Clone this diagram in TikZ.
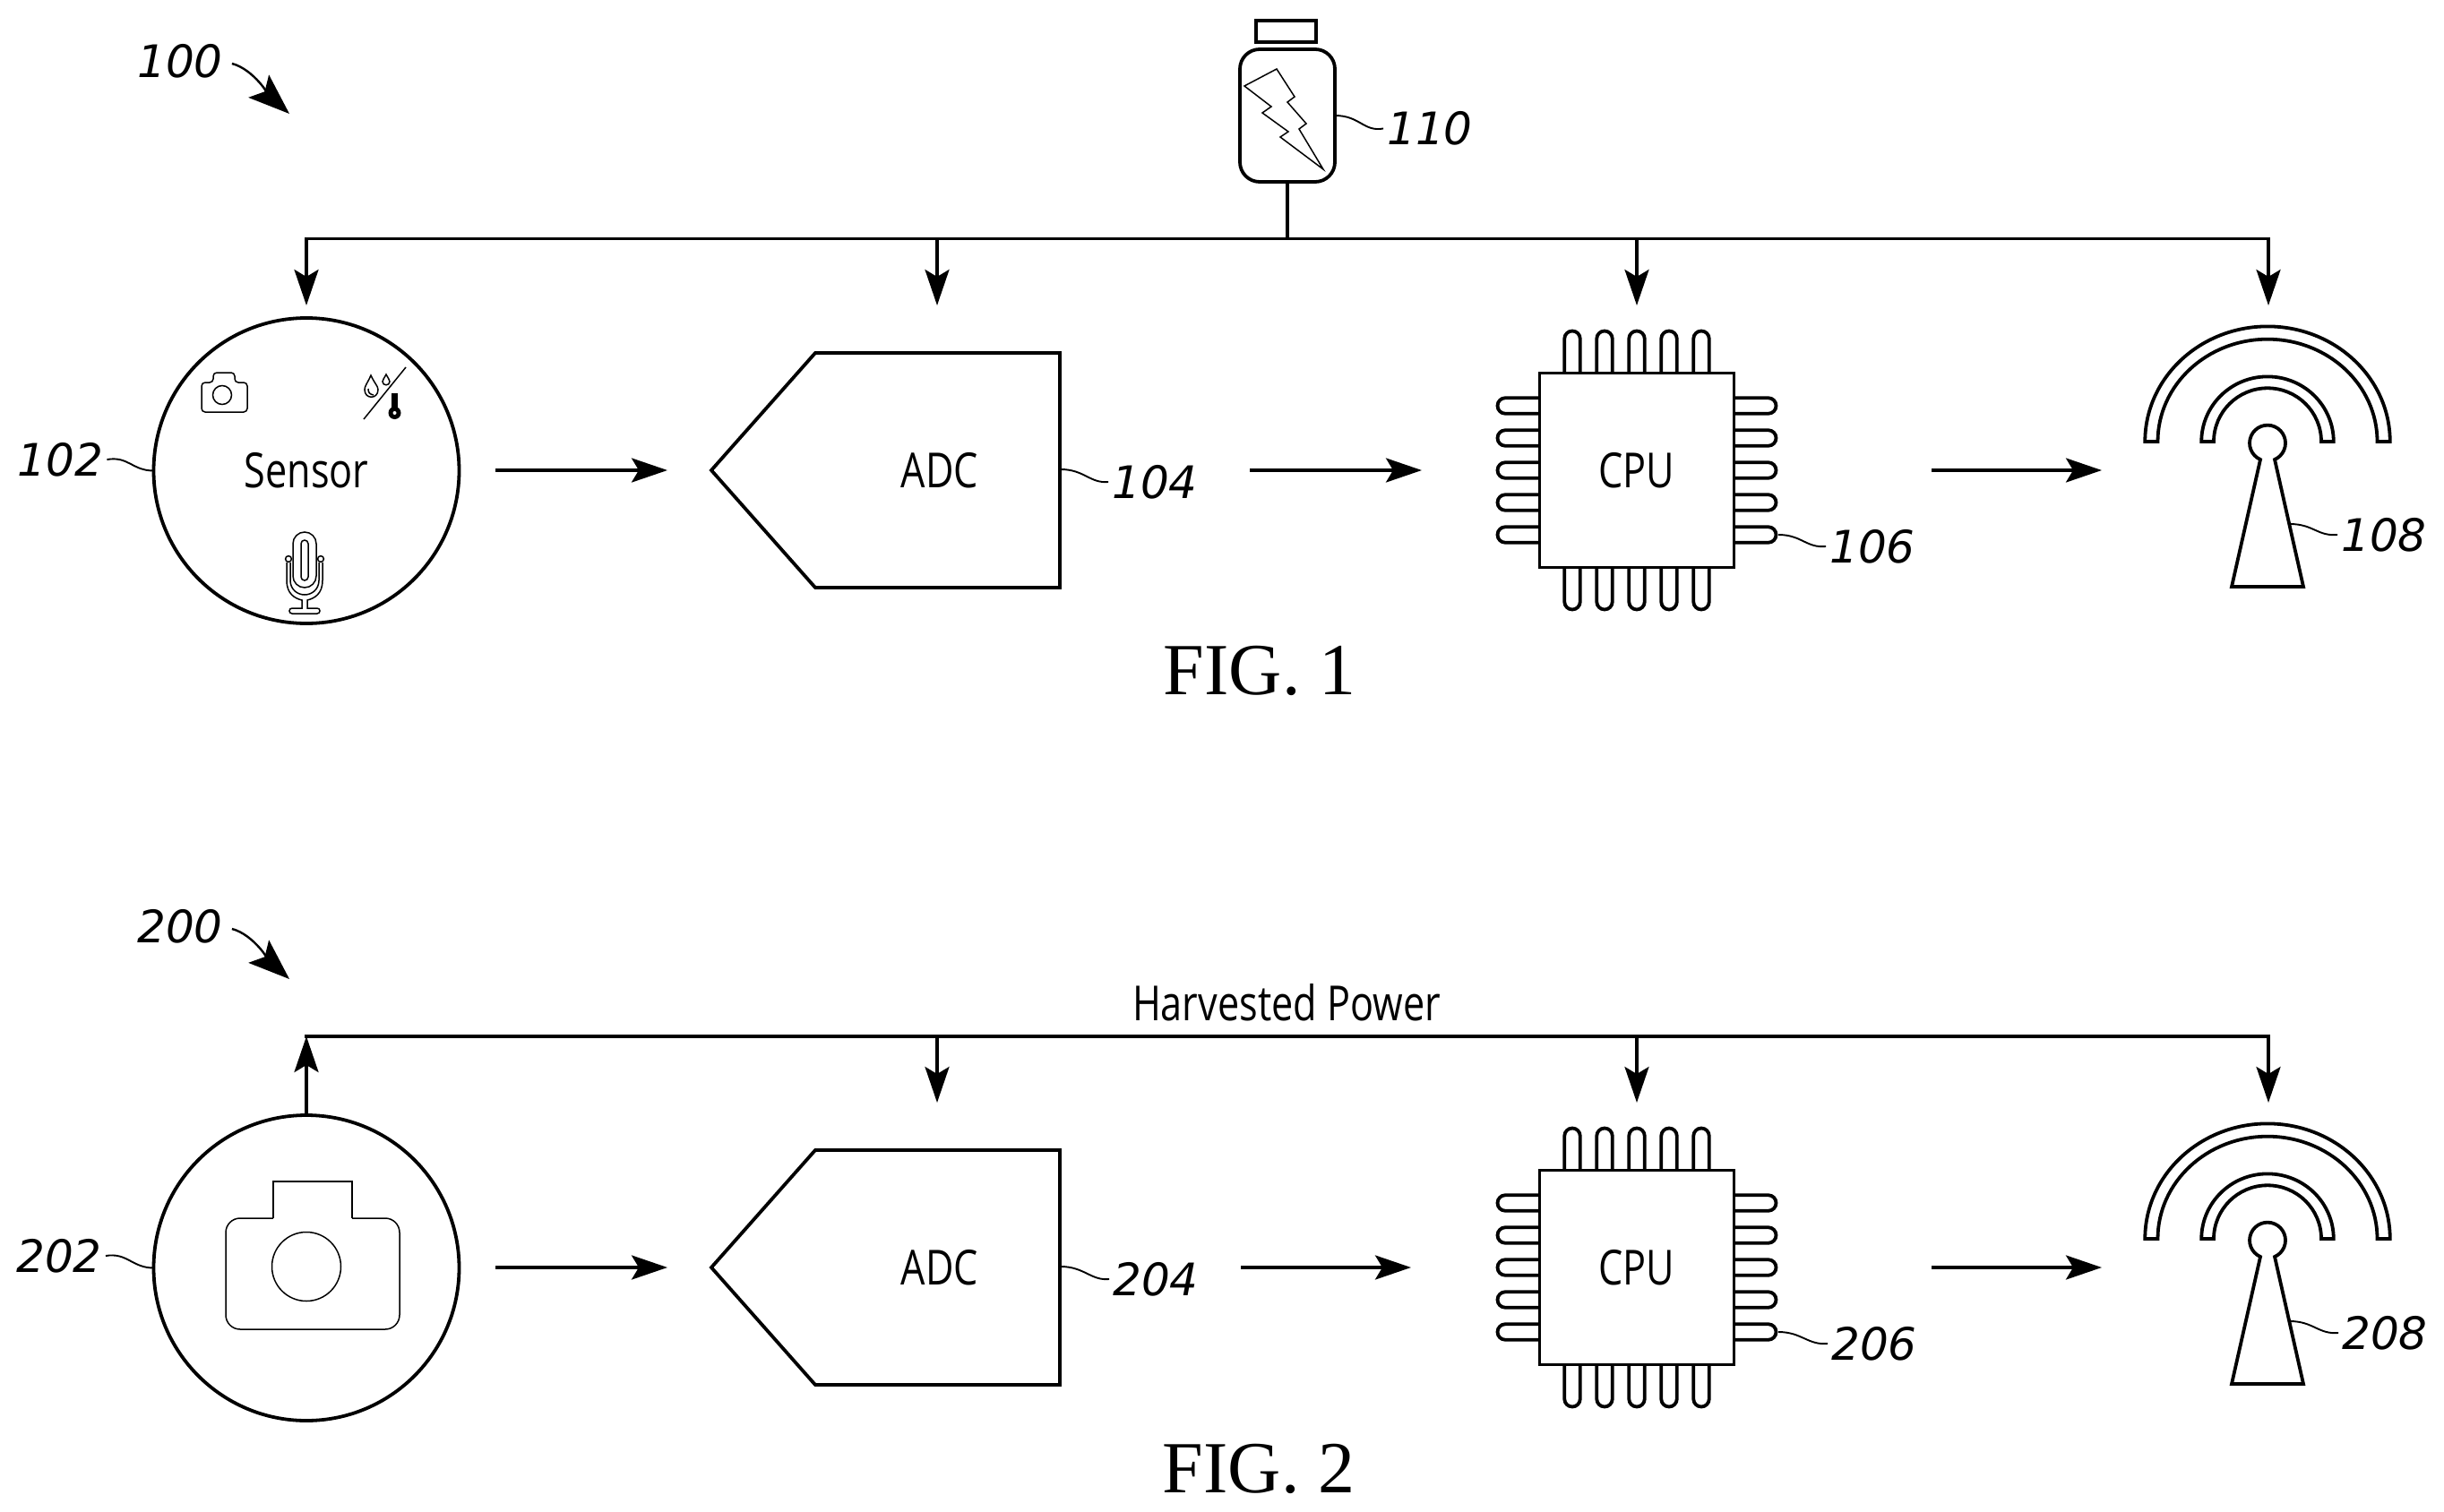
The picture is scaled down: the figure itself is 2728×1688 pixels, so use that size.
\documentclass[tikz,border=0pt]{standalone}
\usepackage{fontspec}
\usetikzlibrary{arrows.meta,calc}
\newfontfamily\reffont{DejaVu Sans}
\newfontfamily\labfont[FakeStretch=0.8]{Open Sans}
\newfontfamily\figfont{Liberation Serif}
\tikzset{
  thick line/.style={line width=3.8pt,line join=miter},
  conn/.style={line width=3.5pt,-{Stealth[length=40pt,width=27pt,inset=8pt]}},
  plainwire/.style={line width=3.5pt},
  leader/.style={line width=1.9pt},
  iconline/.style={line width=1.5pt},
  reflabel/.style={font=\reffont\itshape\fontsize{50}{60}\selectfont,inner sep=4pt},
  lab/.style={font=\labfont\fontsize{54}{64}\selectfont,inner sep=0pt},
  figlabel/.style={font=\figfont\fontsize{82}{96}\selectfont,inner sep=0pt},
  bigshape/.style={draw,line width=3.8pt,inner sep=0pt,outer sep=0pt}
}
\newcommand{\chippins}[1]{%
  \begin{scope}[shift={(#1)}]
  \foreach \r in {0,90,180,270}
    \foreach \o in {-72,-36,0,36,72}
      \draw[thick line,rotate=\r] (\o-8.75,-108) -- (\o-8.75,-146.75)
        arc[start angle=180,end angle=360,radius=8.75] -- (\o+8.75,-108);
  \end{scope}}
\newcommand{\antennashape}[1]{%
  \begin{scope}[shift={(#1)}]
  \draw[thick line] (-136.75,-32) arc[start angle=180,end angle=360,x radius=136.75,y radius=128.6]
     -- (122.5,-32) arc[start angle=360,end angle=180,x radius=122.5,y radius=114.3] -- cycle;
  \draw[thick line] (-73.75,-32) arc[start angle=180,end angle=360,x radius=73.75,y radius=72.6]
     -- (60,-32) arc[start angle=360,end angle=180,x radius=60,y radius=59.7] -- cycle;
  \draw[thick line] (-40,130) -- (-8,-12)
     arc[start angle=113.6,end angle=426.4,radius=20] -- (40,130) -- cycle;
  \end{scope}}
\newcommand{\adcshape}[1]{%
  \draw[thick line] ($(#1)+(-252,0)$) -- ($(#1)+(-136,-131)$) -- ($(#1)+(137,-131)$)
    -- ($(#1)+(137,131)$) -- ($(#1)+(-136,131)$) -- cycle;}
\begin{document}
\begin{tikzpicture}[x=1pt,y=-1pt]
\useasboundingbox (0,0) rectangle (2728,1688);
\fill[white] (0,0) rectangle (2728,1688);

% ---------- FIG. 1 ----------
\node[reflabel] (l100) at (201,68) {100};
\coordinate (t100) at (323,127);
\draw[line width=2.4pt,-{Stealth[length=46pt,width=34pt,inset=9pt]}] (l100.east) ++(6,3)
  .. controls +(24,6) and +(-20,-18) .. (t100);

% battery
\draw[line width=3.8pt] (1402,23) rectangle (1469,47);
\node[draw,line width=3.8pt,rounded corners=22pt,minimum width=106pt,minimum height=148pt,inner sep=0pt,outer sep=0pt] (batt) at (1437,129) {};
\draw[iconline] (1389,96) -- (1425,77) -- (1445,108) -- (1437,114) -- (1458,138) -- (1450,144)
  -- (1477,189) -- (1429,153) -- (1438,147) -- (1409,126) -- (1419,119) -- cycle;
\node[reflabel] (l110) at (1596,143.5) {110};
\draw[leader] (batt.east) ++(0,0) .. controls +(28,0) and +(-22,4) .. (l110.west);

% nodes, first row
\node[bigshape,circle,minimum size=341pt] (s1) at (342,525.5) {};
\node[lab] (sensor) at (342,525) {Sensor};
\coordinate (adc1) at (1046,525);
\adcshape{adc1}
\node[lab] (adctext1) at (1049,525) {ADC};
\chippins{1827,525}
\node[bigshape,fill=white,minimum size=217pt,lab,draw,line width=3.8pt] (c1) at (1827,525) {CPU};
\antennashape{2531,525}

% sensor icons
\begin{scope}[shift={(-3,-2)}]
\draw[iconline,rounded corners=4pt] (228,429) -- (241,429) -- (241,418) -- (265,418) -- (265,429)
  -- (279,429) -- (279,462) -- (228,462) -- cycle;
\draw[iconline] (251,443) circle[radius=10.5];
\draw[iconline] (456,412) -- (409,470);
\draw[iconline] (417,421) .. controls (413,430) and (410,433) .. (410,437)
  .. controls (410,448) and (425,448) .. (425,437) .. controls (425,433) and (421,430) .. (417,421) -- cycle;
\draw[iconline] (414,436) .. controls (414,441) and (416,442) .. (420,443);
\draw[iconline] (434,420) .. controls (432,424) and (430,426) .. (430,428)
  .. controls (430,433) and (438,433) .. (438,428) .. controls (438,426) and (436,424) .. (434,420) -- cycle;
\fill[black] (440,441) rectangle (447,461);
\fill[black] (443.5,463) circle[radius=7];
\fill[white] (443.5,463) circle[radius=2];
% microphone
\draw[iconline,rounded corners=13pt] (330,596) rectangle (356,658);
\draw[iconline,rounded corners=4pt] (339,605) rectangle (347,650);
\draw[iconline] (323,630) -- (323,650) .. controls (323,665) and (332,670) .. (340,672) -- (340,681)
   -- (329,681) .. controls (325,681) and (325,687) .. (329,687) -- (357,687)
   .. controls (361,687) and (361,681) .. (357,681) -- (346,681) -- (346,672)
   .. controls (354,670) and (363,665) .. (363,650) -- (363,630);
\draw[iconline] (327,630) -- (327,650) .. controls (327,660) and (335,666) .. (343,666)
   .. controls (351,666) and (359,660) .. (359,650) -- (359,630);
\draw[iconline] (325,626) circle[radius=3.4];
\draw[iconline] (361,626) circle[radius=3.4];
\end{scope}

% bus, first row
\coordinate (busL1) at (342,266.5);
\coordinate (busR1) at (2532,266.5);
\coordinate (busA1) at (1046,266.5);
\coordinate (busC1) at (1827,266.5);
\coordinate (busB1) at (1437,266.5);
\coordinate (tipA1) at (1046,341);
\coordinate (tipC1) at (1827,341);
\coordinate (tipS1) at (342,341);
\coordinate (tipR1) at (2532,341);
\draw[plainwire] (batt.south -| busB1) -- (busB1);
\draw[plainwire,line cap=rect] (busL1) -- (busR1);
\draw[conn] (busL1) -- (tipS1);
\draw[conn] (busA1) -- (tipA1);
\draw[conn] (busC1) -- (tipC1);
\draw[conn] (busR1) -- (tipR1);

% flow arrows, first row
\coordinate (f1a) at (553,525); \coordinate (f1b) at (745,525);
\coordinate (f2a) at (1395,525); \coordinate (f2b) at (1587,525);
\coordinate (f3a) at (2156,525); \coordinate (f3b) at (2346,525);
\draw[conn] (f1a) -- (f1b);
\draw[conn] (f2a) -- (f2b);
\draw[conn] (f3a) -- (f3b);

% reference labels, first row
\node[reflabel] (l102) at (67.5,513) {102};
\draw[leader] (s1.west) .. controls +(-24,0) and +(24,-4) .. (l102.east);
\node[reflabel] (l104) at (1289,538) {104};
\draw[leader] (1184,524) .. controls +(26,0) and +(-20,2) .. (l104.west);
\node[reflabel] (l106) at (2090,610) {106};
\draw[leader] (1985,597) .. controls +(26,0) and +(-22,2) .. (l106.west);
\node[reflabel] (l108) at (2661,597) {108};
\draw[leader] (2556,585) .. controls +(26,0) and +(-22,2) .. (l108.west);
\node[figlabel] (fig1) at (1406,749) {FIG. 1};

% ---------- FIG. 2 ----------
\node[reflabel] (l200) at (201,1034) {200};
\coordinate (t200) at (323,1093);
\draw[line width=2.4pt,-{Stealth[length=46pt,width=34pt,inset=9pt]}] (l200.east) ++(6,3)
  .. controls +(24,6) and +(-20,-18) .. (t200);

\node[bigshape,circle,minimum size=341pt] (s2) at (342,1415.5) {};
% camera
\draw[iconline,rounded corners=16pt] (252,1360) -- (446,1360) -- (446,1484) -- (252,1484) -- cycle;
\fill[white] (305,1356) rectangle (393,1364);
\draw[iconline] (305,1360) -- (305,1319) -- (393,1319) -- (393,1360);
\draw[iconline] (342,1414) circle[radius=38.5];

\coordinate (adc2) at (1046,1415);
\adcshape{adc2}
\node[lab] (adctext2) at (1049,1415) {ADC};
\chippins{1827,1415}
\node[bigshape,fill=white,minimum size=217pt,lab,draw,line width=3.8pt] (c2) at (1827,1415) {CPU};
\antennashape{2531,1415}

\coordinate (busL2) at (342,1157);
\coordinate (busR2) at (2532,1157);
\coordinate (busA2) at (1046,1157);
\coordinate (busC2) at (1827,1157);
\coordinate (tipA2) at (1046,1231);
\coordinate (tipC2) at (1827,1231);
\coordinate (tipR2) at (2532,1231);
\draw[plainwire,line cap=rect] (busL2) -- (busR2);
\draw[conn] (s2.north) -- (busL2);
\draw[conn] (busA2) -- (tipA2);
\draw[conn] (busC2) -- (tipC2);
\draw[conn] (busR2) -- (tipR2);
\node[lab] (hp) at (1436,1119) {Harvested Power};

\coordinate (g1a) at (553,1415); \coordinate (g1b) at (745,1415);
\coordinate (g2a) at (1385,1415); \coordinate (g2b) at (1575,1415);
\coordinate (g3a) at (2156,1415); \coordinate (g3b) at (2346,1415);
\draw[conn] (g1a) -- (g1b);
\draw[conn] (g2a) -- (g2b);
\draw[conn] (g3a) -- (g3b);

\node[reflabel] (l202) at (66,1402) {202};
\draw[leader] (s2.west) .. controls +(-24,0) and +(24,-4) .. (l202.east);
\node[reflabel] (l204) at (1290,1428) {204};
\draw[leader] (1184,1414) .. controls +(26,0) and +(-20,2) .. (l204.west);
\node[reflabel] (l206) at (2092,1500) {206};
\draw[leader] (1985,1487) .. controls +(26,0) and +(-22,2) .. (l206.west);
\node[reflabel] (l208) at (2662,1488) {208};
\draw[leader] (2556,1475) .. controls +(26,0) and +(-22,2) .. (l208.west);
\node[figlabel] (fig2) at (1405,1640) {FIG. 2};
\end{tikzpicture}
\end{document}
